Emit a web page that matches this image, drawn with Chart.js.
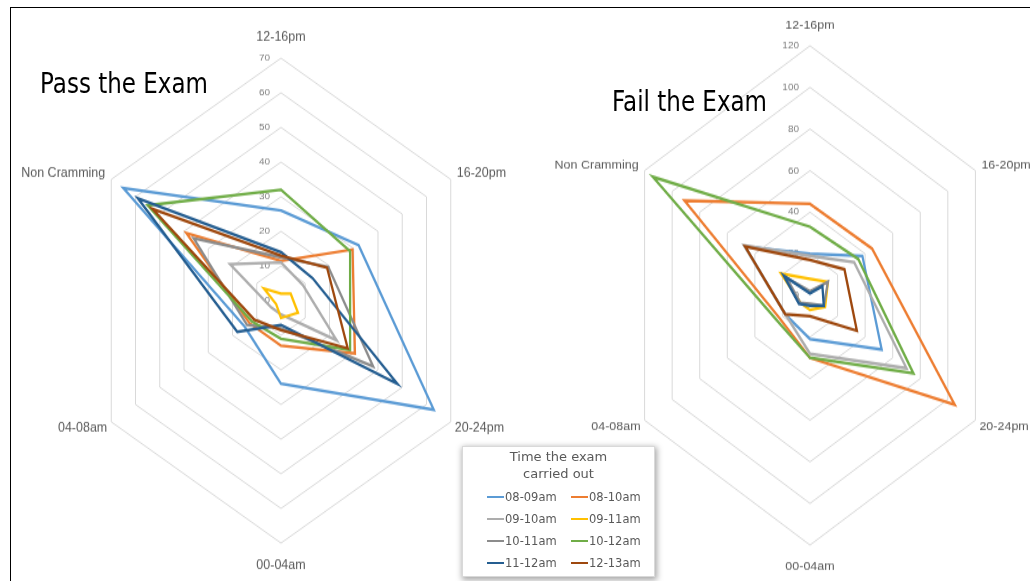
<!DOCTYPE html>
<html>
<head>
<meta charset="utf-8">
<script src="https://cdn.jsdelivr.net/npm/chart.js@4.4.1/dist/chart.umd.min.js"></script>
<style>
    html, body { margin: 0; padding: 0; background: #fff; }
    body { width: 1030px; height: 581px; position: relative; overflow: hidden; font-family: 'Liberation Sans', Arial, sans-serif; }
    .wrap { position: absolute; left: 0; top: 0; width: 1030px; transform-origin: 0 0; }
    .frame { position: absolute; left: 10px; top: 7px; width: 1030px; height: 590px; border-top: 1.5px solid #000; border-left: 1.5px solid #000; }
    .title { position: absolute; font-family: 'DejaVu Sans', sans-serif; font-size: 23px; line-height: 1; color: #000; white-space: nowrap; transform: scaleY(1.2); transform-origin: 0 50%; }
    #legend { position: absolute; left: 462px; top: 446px; width: 193px; height: 131px; background: #fff; border: 1px solid #d9d9d9; box-sizing: border-box; box-shadow: 1px 2px 6px 1px rgba(0,0,0,.35); font-family: 'DejaVu Sans', sans-serif; color: #595959; }
    #legend .lt { position: absolute; left: 0; width: 100%; text-align: center; font-size: 13px; }
    #legend .it { position: absolute; font-size: 11.5px; white-space: nowrap; }
    #legend .it i { display: inline-block; width: 17px; height: 2px; vertical-align: middle; margin-right: 1px; position: relative; top: -1px; }
</style>
</head>
<body>
<div class="frame"></div>
<div class="wrap" id="wrapPass"><canvas id="passChart" width="1030" height="470"></canvas></div>
<div class="wrap" id="wrapFail"><canvas id="failChart" width="1030" height="445"></canvas></div>
<div class="title" style="left:40px;top:73px">Pass the Exam</div>
<div class="title" style="left:612px;top:91px">Fail the Exam</div>
<div id="legend">
    <div class="lt" style="top:2px">Time the exam</div>
    <div class="lt" style="top:19px">carried out</div>
</div>

<script>
/* ── Data ── */
const axes   = ['12-16pm', '16-20pm', '20-24pm', '00-04am', '04-08am', 'Non Cramming'];
const series = ['08-09am', '08-10am', '09-10am', '09-11am', '10-11am', '10-12am', '11-12am', '12-13am'];
const colors = ['#5B9BD5', '#ED7D31', '#ADADAD', '#FFC000', '#8C8C8C', '#70AD47', '#255E91', '#9E480E'];

// Pass the Exam (order follows axes)
const pass0809 = [26, 32, 63, 24, 15, 65];
const pass0810 = [11.5, 29.5, 30.5, 13, 13, 39];
const pass0910 = [11, 9, 23, 4, 4, 21];
const pass0911 = [2, 4, 7, 5, 2, 7];
const pass1011 = [12.5, 19.5, 38, 8, 14, 36];
const pass1012 = [32, 28.5, 28.5, 11, 12, 55];
const pass1112 = [14, 13, 48, 7, 18, 59];
const pass1213 = [13, 19, 27.5, 8.5, 11, 53];

// Fail the Exam
const fail0809 = [20, 38, 52, 21, 18, 47];
const fail0810 = [44, 45, 105, 30, 22, 91];
const fail0910 = [19, 32, 70, 28, 18, 48];
const fail0911 = [8, 13, 11, 7, 7, 21];
const fail1011 = [2, 13, 10, 4, 7, 17];
const fail1012 = [33, 35, 75, 30, 24, 114];
const fail1112 = [1, 9, 10, 5, 8, 19];
const fail1213 = [17, 25, 34, 10, 18, 47];

const passMax = 70,  passStep = 10;
const failMax = 120, failStep = 20;

/* ── Label placement around each vertex (page px) ── */
const labelOffsets = [[0, -21, 'center'], [6, -6, 'left'], [4, 6, 'left'], [0, 22, 'center'], [-4, 6, 'right'], [-6, -6, 'right']];

const axisText = {
    id: 'axisText',
    beforeDatasetsDraw(chart, args, opts) {
        const s = chart.scales.r, ctx = chart.ctx, k = opts.k;
        ctx.save();
        ctx.fillStyle = '#7f7f7f';
        ctx.font = '10px "Liberation Sans"';
        ctx.textAlign = 'right';
        ctx.textBaseline = 'middle';
        s.ticks.forEach(t => {
            const d = s.getDistanceFromCenterForValue(t.value);
            ctx.save();
            ctx.translate(s.xCenter - 11, s.yCenter - d);
            ctx.scale(1, 1 / k);
            ctx.fillText(String(t.value), 0, 0);
            ctx.restore();
        });
        ctx.fillStyle = '#595959';
        ctx.font = '12.5px "Liberation Sans"';
        chart.data.labels.forEach((lab, i) => {
            const p = s.getPointPosition(i, s.drawingArea);
            const [dx, dy, al] = labelOffsets[i];
            ctx.save();
            ctx.translate(p.x, p.y);
            ctx.scale(1, 1 / k);
            ctx.textAlign = al;
            ctx.fillText(lab, dx, dy);
            ctx.restore();
        });
        ctx.restore();
    }
};

function makeRadar(id, wrapId, data, max, step, k, padding) {
    document.getElementById(wrapId).style.transform = `scaleY(${k})`;
    return new Chart(document.getElementById(id), {
        type: 'radar',
        data: {
            labels: axes,
            datasets: data.map((vals, i) => ({
                label: series[i],
                data: vals,
                borderColor: colors[i],
                backgroundColor: 'transparent',
                borderWidth: 2.3,
                pointRadius: 0,
                fill: false,
                tension: 0,
                order: data.length - i
            }))
        },
        options: {
            responsive: false,
            animation: false,
            layout: { padding },
            plugins: { legend: { display: false }, tooltip: { enabled: false }, axisText: { k } },
            scales: {
                r: {
                    min: 0, max,
                    ticks: { display: false, stepSize: step },
                    grid: { color: '#D9D9D9', lineWidth: 1 },
                    angleLines: { display: false },
                    pointLabels: { display: false }
                }
            }
        },
        plugins: [axisText]
    });
}

makeRadar('passChart', 'wrapPass',
    [pass0809, pass0810, pass0910, pass0911, pass1011, pass1012, pass1112, pass1213],
    passMax, passStep, 1.237, { left: 85, right: 553, top: 47, bottom: 31 });

makeRadar('failChart', 'wrapFail',
    [fail0809, fail0810, fail0910, fail0911, fail1011, fail1012, fail1112, fail1213],
    failMax, failStep, 1.307, { left: 619, right: 29, top: 35, bottom: 28 });

/* ── Legend ── */
const legend = document.getElementById('legend');
series.forEach((name, i) => {
    const el = document.createElement('div');
    el.className = 'it';
    el.style.left = (i % 2 ? 108 : 24) + 'px';
    el.style.top  = (43 + Math.floor(i / 2) * 22) + 'px';
    el.innerHTML = `<i style="background:${colors[i]}"></i>${name}`;
    legend.appendChild(el);
});
</script>
</body>
</html>
